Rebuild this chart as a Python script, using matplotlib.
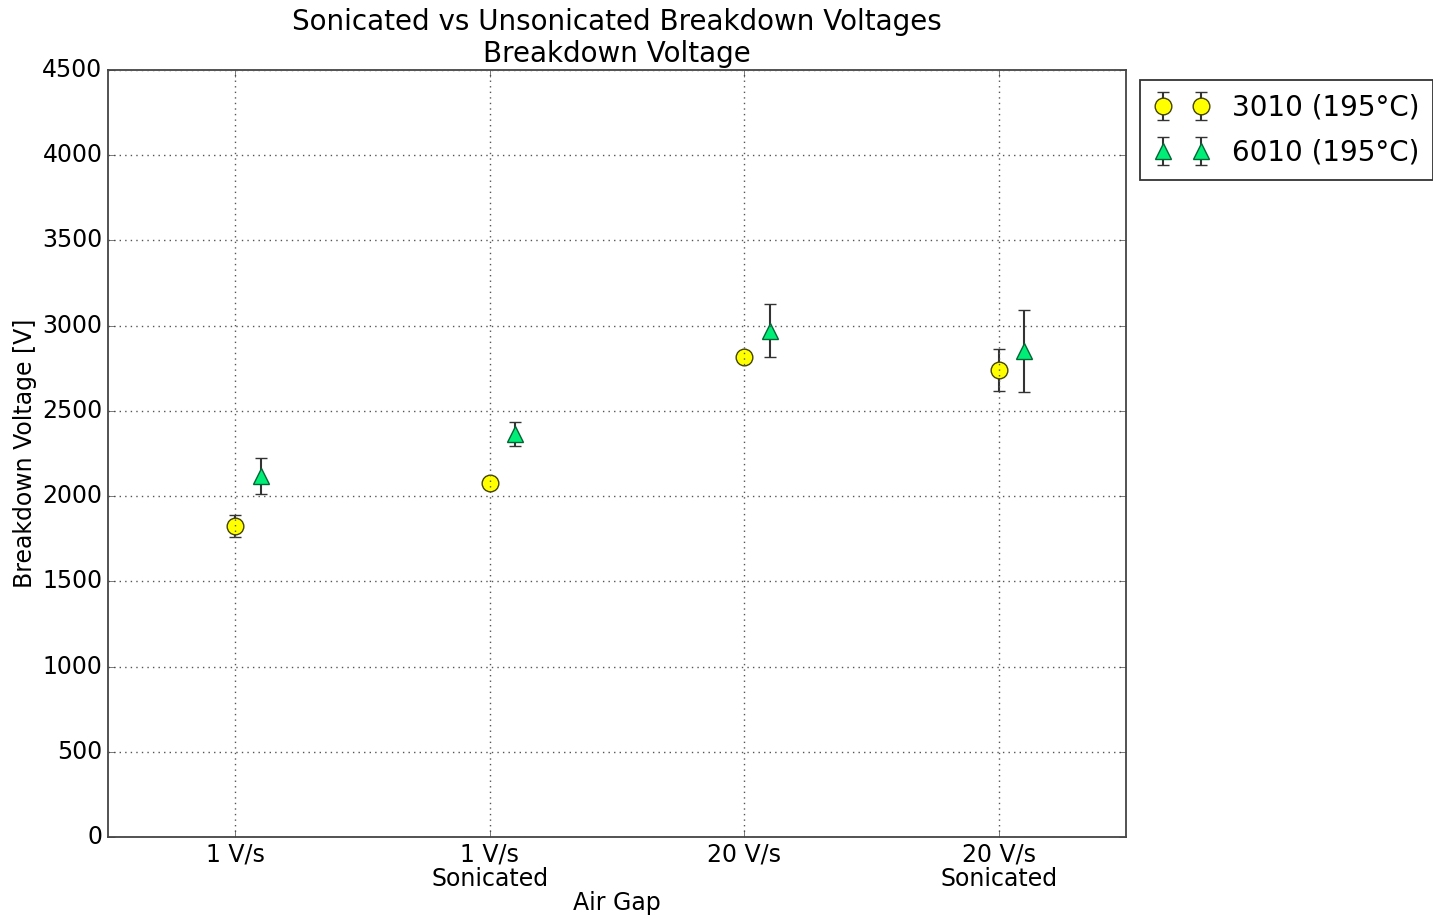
import matplotlib
matplotlib.use("Agg")
import matplotlib.pyplot as plt
import numpy as np

plt.style.use("classic")

categories = ["1 V/s", "1 V/s\nSonicated", "20 V/s", "20 V/s\nSonicated"]
v3010 = [1825, 2077, 2817, 2740]
e3010 = [65, 30, 10, 125]
v6010 = [2118, 2365, 2970, 2852]
e6010 = [105, 68, 155, 240]

x = np.arange(len(categories))

fig = plt.figure(figsize=(14.33, 9.19), dpi=100, facecolor="white")
ax = fig.add_axes([0.0754, 0.0892, 0.7104, 0.8346])

ax.errorbar(x, v3010, yerr=e3010, fmt="o", color="#333333", ecolor="#333333",
            markerfacecolor="yellow", markeredgecolor="#444400", markersize=12,
            capsize=4, elinewidth=1.5, markeredgewidth=1, label="3010 (195°C)")
ax.errorbar(x + 0.1, v6010, yerr=e6010, fmt="^", color="#333333", ecolor="#333333",
            markerfacecolor="#00ee77", markeredgecolor="#006633", markersize=12,
            capsize=4, elinewidth=1.5, markeredgewidth=1, label="6010 (195°C)")

ax.set_xlim(-0.5, 3.5)
ax.set_ylim(0, 4500)
ax.set_xticks(x)
ax.set_xticklabels(categories, fontsize=17, linespacing=1.0)
ax.tick_params(axis="y", labelsize=17)
ax.tick_params(length=5, color="#444444")
for s in ax.spines.values():
    s.set_color("#444444")
    s.set_linewidth(1.3)
ax.grid(True, color="#555555", linestyle=":", linewidth=1)
ax.set_xlabel("Air Gap", fontsize=17, labelpad=0)
ax.set_ylabel("Breakdown Voltage [V]", fontsize=17, labelpad=4)
ax.set_title("Sonicated vs Unsonicated Breakdown Voltages\nBreakdown Voltage", fontsize=20,
             linespacing=1.15, pad=6)
leg = ax.legend(loc="upper left", bbox_to_anchor=(1.014, 0.987), numpoints=2, fontsize=20,
                fancybox=False, borderaxespad=0, labelspacing=0.6, borderpad=0.5,
                handletextpad=0.8)
leg.get_frame().set_edgecolor("#333333")
leg.get_frame().set_linewidth(1.3)

fig.savefig("out.png", dpi=100, facecolor="white")
